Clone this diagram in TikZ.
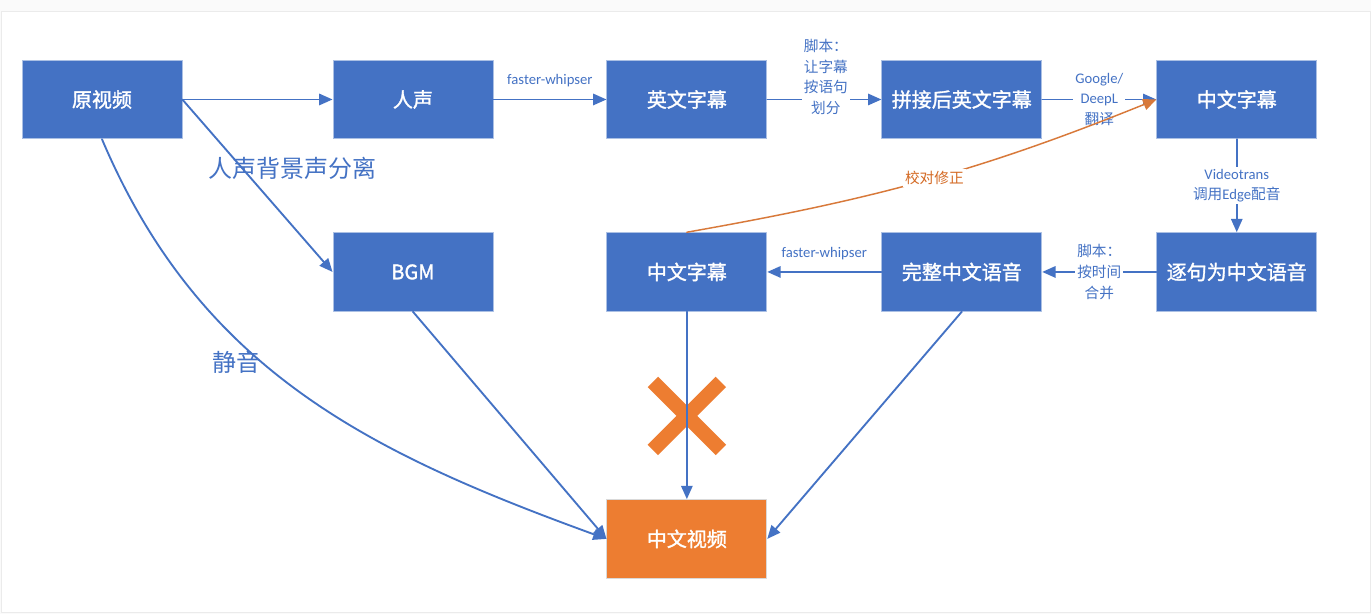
\documentclass[tikz,border=0pt]{standalone}
\usepackage{fontspec}
\setmainfont{Carlito}
\newfontfamily\cjk{Noto Sans CJK SC}
\newfontfamily\cjkbold{Noto Sans CJK SC}[FakeBold=1.5]
\usetikzlibrary{arrows.meta,shapes.misc}
\definecolor{boxblue}{HTML}{4472C4}
\definecolor{boxorange}{HTML}{ED7D31}
\definecolor{fixorange}{HTML}{D46A24}
\begin{document}
\begin{tikzpicture}[x=0.75pt,y=-0.75pt,line cap=round,line join=round,
	box/.style={fill=boxblue,draw=boxblue!45!white,line width=0.6pt,minimum width=120pt,minimum height=59pt,inner sep=0pt,text=white,font=\cjkbold\fontsize{15}{18}\selectfont},
	flow/.style={draw=boxblue,line width=1.4pt,-{Triangle[length=10pt,width=8.5pt]}},
	tag/.style={text=boxblue,font=\fontsize{11}{15.5}\selectfont,align=center,fill=white,inner sep=1.5pt},
	bigtag/.style={text=boxblue,font=\cjk\fontsize{18}{22}\selectfont,inner sep=0pt}]
	\fill[black!2] (0,0) rectangle (1371,614);
	\fill[white,draw=black!8] (1,11) rectangle (1371,612);
	\useasboundingbox (0,0) rectangle (1371,614);
	\node[box] (yuan) at (102,99.5) {原视频};
	\node[box] (rensheng) at (413,99.5) {人声};
	\node[box] (yingwen) at (687,99.5) {英文字幕};
	\node[box] (pinjie) at (962,99.5) {拼接后英文字幕};
	\node[box] (zhongwen) at (1237,99.5) {中文字幕};
	\node[box] (bgm) at (413,272) {BGM};
	\node[box] (jiaodui) at (687,272) {中文字幕};
	\node[box] (wanzheng) at (962,272) {完整中文语音};
	\node[box] (zhuju) at (1237,272) {逐句为中文语音};
	\node[box,fill=boxorange,draw=black!15] (shipin) at (687,539) {中文视频};
	\draw[flow] (yuan) -- (rensheng);
	\draw[flow] (rensheng) -- node[tag,fill=none,above=7pt] {faster-whipser} (yingwen);
	\draw[flow] (yingwen) -- (pinjie);
	\node[tag] (huafen) at (826,77) {\cjk 脚本：\\\cjk 让字幕\\\cjk 按语句\\\cjk 划分};
	\draw[flow] (pinjie) -- node[tag] (fanyi) {Google/\\DeepL\\\cjk 翻译} (zhongwen);
	\draw[flow] (zhongwen) -- node[tag] (peiyin) {Videotrans\\{\cjk 调用}Edge{\cjk 配音}} (zhuju);
	\draw[flow] (zhuju) -- node[tag] (hebing) {\cjk 脚本：\\\cjk 按时间\\\cjk 合并} (wanzheng);
	\draw[flow] (wanzheng) -- node[tag,fill=none,above=7pt] {faster-whipser} (jiaodui);
	\draw[flow] (yuan.east) -- (bgm.west);
	\node[bigtag] (fenli) at (293,168) {人声背景声分离};
	\draw[flow] (yuan.south) to[out=-67,in=160] (shipin.west);
	\node[bigtag] (jingyin) at (237,362) {静音};
	\draw[flow] (bgm.south) -- (shipin.west);
	\node[cross out,draw=boxorange,line width=11pt,line cap=butt,minimum size=40pt,inner sep=0pt] (cha) at (687,416) {};
	\draw[flow] (jiaodui.south) -- (shipin.north);
	\draw[flow] (wanzheng.south) -- (shipin.east);
	\draw[draw=fixorange!90!white,line width=1.1pt,-{Triangle[length=10pt,width=8.5pt]}] (jiaodui.north) to[out=10,in=-158] node[pos=0.52,tag,text=fixorange,font=\cjk\fontsize{11}{14}\selectfont] (xiuzheng) {校对修正} (zhongwen.west);
\end{tikzpicture}
\end{document}
